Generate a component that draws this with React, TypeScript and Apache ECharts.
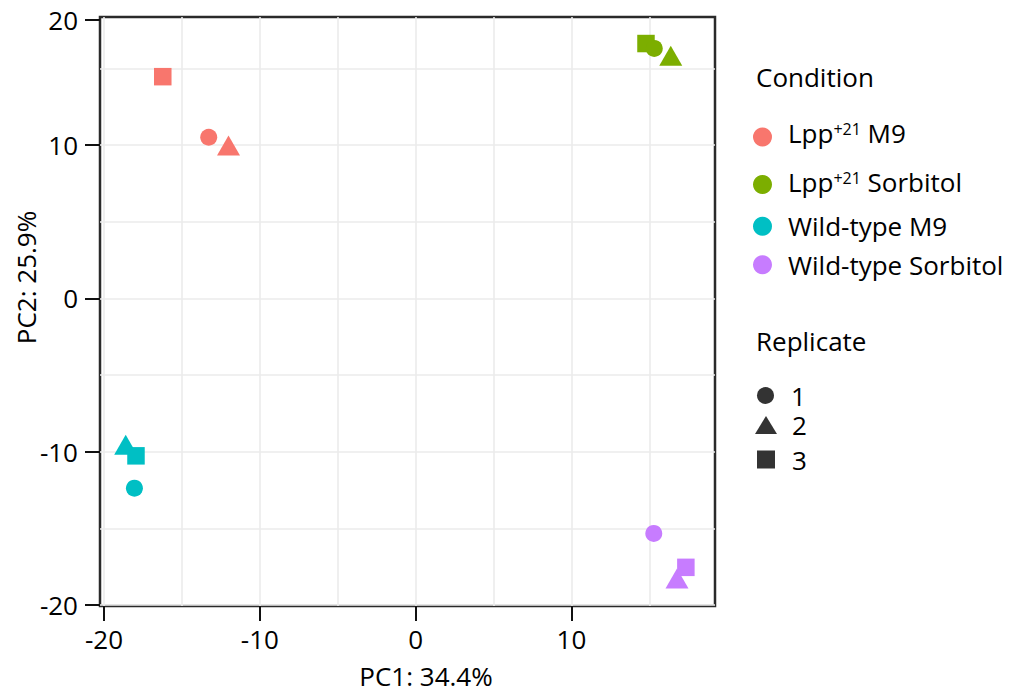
import React, { useEffect, useRef } from "react";
import * as echarts from "echarts";

// ---------- data ----------
const conditions = ["Lpp+21 M9", "Lpp+21 Sorbitol", "Wild-type M9", "Wild-type Sorbitol"];
const replicates = ["1", "2", "3"];

// values per replicate [1, 2, 3]
const lppM9PC1 = [-13.28, -12.01, -16.23];
const lppM9PC2 = [10.51, 9.97, 14.46];
const lppSorbitolPC1 = [15.32, 16.38, 14.79];
const lppSorbitolPC2 = [16.3, 15.83, 16.62];
const wtM9PC1 = [-18.05, -18.61, -17.95];
const wtM9PC2 = [-12.37, -9.54, -10.26];
const wtSorbitolPC1 = [15.29, 16.78, 17.35];
const wtSorbitolPC2 = [-15.32, -18.26, -17.53];

const xTickValues = [-20, -10, 0, 10];
const xTickLabels = ["-20", "-10", "0", "10"];
const yTickValues = [-20, -10, 0, 10, 18.15];
const yTickLabels = ["-20", "-10", "0", "10", "20"];
const xGridValues = [-20, -15, -10, -5, 0, 5, 10, 15];
const yGridValues = [-20, -15, -10, -5, 0, 5, 10, 15];

// ---------- style ----------
const FONT = '"Open Sans", "Noto Sans", sans-serif';
const FS = 26;
const conditionColors = ["#F8766D", "#7CAE00", "#00BFC4", "#C77CFF"];
const replicateSymbols = ["circle", "triangle", "rect"];
const replicateSizes: any[] = [17, [23, 20], 17.5];
const drawOrders = [[0, 1, 2], [2, 0, 1], [0, 1, 2], [0, 1, 2]];
const condLegendCenters = [137, 184.5, 226.2, 264.7];
const condTextLift = [8, 6, 0, 0];
const repLegend = [
  { cx: 765.5, cy: 395.5, w: 17, h: 17, pad: 12 },
  { cx: 766, cy: 425, w: 22, h: 18, pad: 10 },
  { cx: 766, cy: 459.5, w: 18, h: 18, pad: 12 },
];
const REP_LH = 26;

const pcData = [
  [lppM9PC1, lppM9PC2],
  [lppSorbitolPC1, lppSorbitolPC2],
  [wtM9PC1, wtM9PC2],
  [wtSorbitolPC1, wtSorbitolPC2],
];

const X_MIN = -20.26;
const X_MAX = 19.22;
const Y_MIN = -20.05;
const Y_MAX = 18.35;

function labelFor(values: number[], labels: string[]) {
  return (v: number) => {
    const i = values.findIndex((t) => Math.abs(t - v) < 1e-6);
    return i >= 0 ? labels[i] : "";
  };
}

const richText = {
  t: { fontSize: FS, fontFamily: FONT, color: "#000", lineHeight: FS },
  s: { fontSize: 16, fontFamily: FONT, color: "#000", lineHeight: 16, verticalAlign: "top", padding: [1, 0, 0, 0] },
};

function condFormatter(name: string) {
  if (name.startsWith("Lpp+21")) {
    return "{t|Lpp}{s|+21}{t|" + name.slice(6) + "}";
  }
  return "{t|" + name + "}";
}

export default function App() {
  const ref = useRef<HTMLDivElement>(null);
  useEffect(() => {
    if (!ref.current) return;
    const chart = echarts.init(ref.current, null, { renderer: "svg" });

    const series: any[] = conditions.map((c, ci) => ({
      type: "scatter",
      name: c,
      xAxisIndex: 0,
      yAxisIndex: 0,
      itemStyle: { color: conditionColors[ci], opacity: 1 },
      emphasis: { disabled: true },
      data: drawOrders[ci].map((r) => ({
        value: [pcData[ci][0][r], pcData[ci][1][r]],
        symbol: replicateSymbols[r],
        symbolSize: replicateSizes[r],
      })),
    }));
    replicates.forEach((r, ri) => {
      series.push({
        type: "scatter",
        name: r,
        xAxisIndex: 0,
        yAxisIndex: 0,
        symbol: replicateSymbols[ri],
        symbolSize: replicateSizes[ri],
        itemStyle: { color: "#000" },
        data: [],
      });
    });

    const legends: any[] = conditions.map((c, ci) => ({
      data: [{ name: c, icon: "circle" }],
      left: 753,
      top: condLegendCenters[ci] - (FS + condTextLift[ci]) / 2,
      padding: 0,
      itemWidth: 19,
      itemHeight: 19,
      selectedMode: false,
      formatter: condFormatter,
      textStyle: {
        fontSize: FS,
        fontFamily: FONT,
        color: "#000",
        lineHeight: FS,
        padding: [0, 0, condTextLift[ci], 11],
        rich: richText,
      },
    }));
    replicates.forEach((r, ri) => {
      const p = repLegend[ri];
      legends.push({
        data: [{ name: r, icon: replicateSymbols[ri] }],
        left: p.cx - p.w / 2,
        top: p.cy - REP_LH / 2,
        padding: 0,
        itemWidth: p.w,
        itemHeight: p.h,
        selectedMode: false,
        textStyle: {
          fontSize: FS,
          fontFamily: FONT,
          color: "#000",
          lineHeight: REP_LH,
          padding: [0, 0, 0, p.pad],
        },
      });
    });

    const option: any = {
      animation: false,
      textStyle: { fontFamily: FONT },
      grid: {
        left: 100,
        right: 308,
        top: 17,
        bottom: 92,
        show: true,
        containLabel: false,
        outerBoundsMode: "none",
        borderColor: "#2a2a2a",
        borderWidth: 2.5,
        backgroundColor: "transparent",
      },
      xAxis: [
        {
          type: "value",
          min: X_MIN,
          max: X_MAX,
          position: "bottom",
          name: "PC1: 34.4%",
          nameLocation: "middle",
          nameGap: 57,
          nameMoveOverlap: false,
          nameTextStyle: {
            fontSize: FS,
            fontFamily: FONT,
            color: "#000",
            lineHeight: FS,
            padding: [0, 0, 0, 37],
          },
          axisLine: { show: false, onZero: false },
          axisTick: {
            show: true,
            length: 15,
            customValues: xTickValues,
            lineStyle: { color: "#111", width: 2 },
          },
          axisLabel: {
            customValues: xTickValues,
            formatter: labelFor(xTickValues, xTickLabels),
            fontSize: FS,
            fontFamily: FONT,
            color: "#000",
            margin: 20,
          },
          splitLine: { show: false },
        },
        {
          type: "value",
          min: X_MIN,
          max: X_MAX,
          position: "top",
          axisLine: { show: false, onZero: false },
          axisTick: { show: false, customValues: xGridValues },
          axisLabel: { show: false },
          splitLine: { show: true, lineStyle: { color: "#EBEBEB", width: 1.6 } },
        },
      ],
      yAxis: [
        {
          type: "value",
          min: Y_MIN,
          max: Y_MAX,
          position: "left",
          name: "PC2: 25.9%",
          nameLocation: "middle",
          nameGap: 61,
          nameMoveOverlap: false,
          nameTextStyle: {
            fontSize: FS,
            fontFamily: FONT,
            color: "#000",
            lineHeight: FS,
            padding: [0, 0, 0, 68],
          },
          axisLine: { show: false, onZero: false },
          axisTick: {
            show: true,
            length: 15,
            customValues: yTickValues,
            lineStyle: { color: "#111", width: 2 },
          },
          axisLabel: {
            customValues: yTickValues,
            formatter: labelFor(yTickValues, yTickLabels),
            fontSize: FS,
            fontFamily: FONT,
            color: "#000",
            margin: 22,
          },
          splitLine: { show: false },
        },
        {
          type: "value",
          min: Y_MIN,
          max: Y_MAX,
          position: "right",
          axisLine: { show: false, onZero: false },
          axisTick: { show: false, customValues: yGridValues },
          axisLabel: { show: false },
          splitLine: { show: true, lineStyle: { color: "#EBEBEB", width: 1.6 } },
        },
      ],
      legend: legends,
      graphic: [
        {
          type: "text",
          x: 756,
          y: 77,
          style: {
            text: "Condition",
            fontSize: FS,
            fontFamily: FONT,
            fill: "#000",
            verticalAlign: "middle",
          },
        },
        {
          type: "text",
          x: 756,
          y: 341,
          style: {
            text: "Replicate",
            fontSize: FS,
            fontFamily: FONT,
            fill: "#000",
            verticalAlign: "middle",
          },
        },
      ],
      series,
    };
    chart.setOption(option);
    return () => chart.dispose();
  }, []);

  return (
    <div
      ref={ref}
      style={{ position: "fixed", left: 0, top: 0, width: 1023, height: 698, background: "#fff" }}
    />
  );
}
